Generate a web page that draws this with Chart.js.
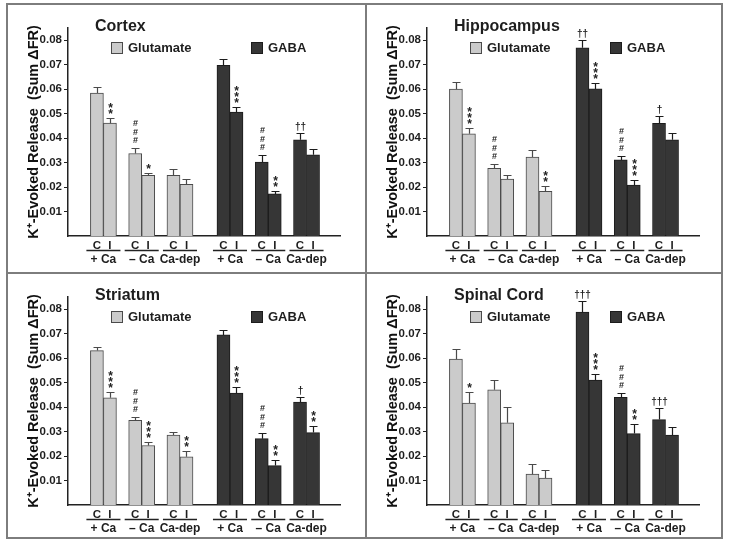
<!DOCTYPE html>
<html><head><meta charset="utf-8">
<script src="https://cdn.jsdelivr.net/npm/chart.js@4.4.1/dist/chart.umd.min.js"></script>
<style>
html,body{margin:0;padding:0;background:#fff;}
#wrap{position:relative;width:729px;height:545px;overflow:hidden;background:#fff;}
canvas{position:absolute;}
.ln{position:absolute;background:#7d7d7d;}
</style></head><body>
<div id="wrap">
<canvas id="c0" width="357" height="267" style="left:8px;top:5px"></canvas>
<canvas id="c1" width="354" height="267" style="left:367px;top:5px"></canvas>
<canvas id="c2" width="357" height="263" style="left:8px;top:274px"></canvas>
<canvas id="c3" width="354" height="263" style="left:367px;top:274px"></canvas>
<div class="ln" style="left:6px;top:3px;width:717px;height:2px"></div>
<div class="ln" style="left:6px;top:537px;width:717px;height:2px"></div>
<div class="ln" style="left:6px;top:3px;width:2px;height:536px"></div>
<div class="ln" style="left:721px;top:3px;width:2px;height:536px"></div>
<div class="ln" style="left:365px;top:3px;width:2px;height:536px"></div>
<div class="ln" style="left:6px;top:272px;width:717px;height:2px"></div>
</div>
<script>
// ---------- data ----------
const panelTitles = ['Cortex', 'Hippocampus', 'Striatum', 'Spinal Cord'];
const groupLabels = ['+ Ca', '\u2013 Ca', 'Ca-dep'];
const barLabels = ['C', 'I'];
const seriesNames = ['Glutamate', 'GABA'];
const yTickValues = [0.01, 0.02, 0.03, 0.04, 0.05, 0.06, 0.07, 0.08];
const yTitle = 'K\u207A-Evoked Release  (Sum \u0394FR)';

// order per series: +Ca C, +Ca I, -Ca C, -Ca I, Ca-dep C, Ca-dep I
const cortexGlutamate    = [0.0584, 0.0461, 0.0337, 0.0248, 0.0248, 0.0211];
const cortexGlutamateErr = [0.0026, 0.0023, 0.0024, 0.0008, 0.0025, 0.0023];
const cortexGlutamateSig = ['', '**', '###', '*', '', ''];
const cortexGaba         = [0.0697, 0.0506, 0.0302, 0.0172, 0.0393, 0.0332];
const cortexGabaErr      = [0.0026, 0.0023, 0.0030, 0.0013, 0.0027, 0.0024];
const cortexGabaSig      = ['', '***', '###', '**', '\u2020\u2020', ''];

const hippoGlutamate     = [0.0600, 0.0418, 0.0277, 0.0233, 0.0323, 0.0183];
const hippoGlutamateErr  = [0.0030, 0.0023, 0.0017, 0.0015, 0.0028, 0.0023];
const hippoGlutamateSig  = ['', '***', '###', '', '', '**'];
const hippoGaba          = [0.0769, 0.0601, 0.0311, 0.0208, 0.0460, 0.0393];
const hippoGabaErr       = [0.0034, 0.0024, 0.0016, 0.0019, 0.0031, 0.0026];
const hippoGabaSig       = ['\u2020\u2020', '***', '###', '***', '\u2020', ''];

const striatumGlutamate    = [0.0631, 0.0438, 0.0346, 0.0243, 0.0286, 0.0197];
const striatumGlutamateErr = [0.0014, 0.0022, 0.0014, 0.0015, 0.0014, 0.0023];
const striatumGlutamateSig = ['', '***', '###', '***', '', '**'];
const striatumGaba         = [0.0695, 0.0457, 0.0271, 0.0161, 0.0421, 0.0296];
const striatumGabaErr      = [0.0020, 0.0025, 0.0022, 0.0022, 0.0021, 0.0027];
const striatumGabaSig      = ['', '***', '###', '**', '\u2020', '**'];

const spinalGlutamate    = [0.0596, 0.0417, 0.0471, 0.0336, 0.0126, 0.0110];
const spinalGlutamateErr = [0.0040, 0.0043, 0.0041, 0.0064, 0.0040, 0.0031];
const spinalGlutamateSig = ['', '*', '', '', '', ''];
const spinalGaba         = [0.0788, 0.0510, 0.0440, 0.0292, 0.0349, 0.0286];
const spinalGabaErr      = [0.0046, 0.0027, 0.0016, 0.0040, 0.0047, 0.0033];
const spinalGabaSig      = ['\u2020\u2020\u2020', '***', '###', '**', '\u2020\u2020\u2020', ''];

const panels = [
  [cortexGlutamate, cortexGlutamateErr, cortexGlutamateSig, cortexGaba, cortexGabaErr, cortexGabaSig],
  [hippoGlutamate, hippoGlutamateErr, hippoGlutamateSig, hippoGaba, hippoGabaErr, hippoGabaSig],
  [striatumGlutamate, striatumGlutamateErr, striatumGlutamateSig, striatumGaba, striatumGabaErr, striatumGabaSig],
  [spinalGlutamate, spinalGlutamateErr, spinalGlutamateSig, spinalGaba, spinalGabaErr, spinalGabaSig]
];

// ---------- layout (x in bar-width units) ----------
const FIRST = 0.85, PITCH = 2.94, SET = 9.72, XMAX = 19.15;
const PLOT_TOP = 23, PLOT_BOTTOM = 231, PLOT_LEFT = 60, PLOT_RIGHT = 332;
function barX(set, i) { return FIRST + SET * set + PITCH * Math.floor(i / 2) + (i % 2) + 0.5; }
const centers = [];
for (let s = 0; s < 2; s++) for (let i = 0; i < 6; i++) centers.push(barX(s, i));
centers.sort((a, b) => a - b);

const FONT = "'Liberation Sans', Arial, Helvetica, sans-serif";
Chart.defaults.font.family = FONT;
Chart.defaults.color = '#1e1e1e';
const TXT = '#1e1e1e';
const styles = [
  { bg: '#cbcbcb', border: '#4a4a4a' },
  { bg: '#363636', border: '#1c1c1c' }
];

const annot = {
  id: 'annot',
  afterDatasetsDraw(chart) {
    const { ctx, scales: { x, y } } = chart;
    chart.data.datasets.forEach(ds => {
      ds.data.forEach((pt, i) => {
        const cx = Math.round(x.getPixelForValue(pt.x)) + 0.5;
        const yTop = y.getPixelForValue(pt.y);
        const yErr = Math.round(y.getPixelForValue(pt.y + ds.errors[i])) + 0.5;
        ctx.save();
        ctx.strokeStyle = ds.borderColor;
        ctx.lineWidth = 1.2;
        ctx.beginPath();
        ctx.moveTo(cx, yTop); ctx.lineTo(cx, yErr);
        ctx.moveTo(cx - 4, yErr); ctx.lineTo(cx + 4, yErr);
        ctx.stroke();
        const s = ds.sig[i];
        if (s) {
          ctx.fillStyle = '#222';
          ctx.textAlign = 'center';
          ctx.textBaseline = 'alphabetic';
          if (s[0] === '\u2020') {
            ctx.font = 'bold 10px ' + FONT;
            ctx.fillText(s, cx, yErr - 4);
          } else if (s[0] === '*') {
            ctx.font = 'bold 12px ' + FONT;
            for (let k = 0; k < s.length; k++) {
              const cy = yErr - 7.5 - 6 * k;
              ctx.fillText('*', cx, cy + 7);
            }
          } else {
            ctx.font = 'bold 9px ' + FONT;
            for (let k = 0; k < s.length; k++) {
              const cy = yErr - 8.3 - 8.5 * k;
              ctx.fillText('#', cx, cy + 3.2);
            }
          }
        }
        ctx.restore();
      });
    });
  },
  afterDraw(chart) {
    const { ctx, chartArea: ca, scales: { x } } = chart;
    ctx.save();
    // panel title
    ctx.fillStyle = TXT;
    ctx.textAlign = 'left';
    ctx.textBaseline = 'alphabetic';
    ctx.font = 'bold 16px ' + FONT;
    ctx.fillText(chart.options.plugins.panelTitle, ca.left + 27, 26);
    // legend
    const legendX = [ca.left + 43, ca.left + 183];
    chart.data.datasets.forEach((ds, d) => {
      ctx.fillStyle = ds.backgroundColor;
      ctx.strokeStyle = ds.borderColor;
      ctx.lineWidth = 1;
      ctx.fillRect(legendX[d], 37, 12, 12);
      ctx.strokeRect(legendX[d] + 0.5, 37.5, 11, 11);
      ctx.fillStyle = TXT;
      ctx.font = 'bold 13px ' + FONT;
      ctx.textBaseline = 'middle';
      ctx.fillText(ds.label, legendX[d] + 17, 43.5);
    });
    // group labels with underline
    const unit = x.getPixelForValue(1) - x.getPixelForValue(0);
    ctx.strokeStyle = '#222';
    ctx.lineWidth = 1.3;
    ctx.textAlign = 'center';
    ctx.textBaseline = 'middle';
    ctx.font = 'bold 12px ' + FONT;
    for (let s = 0; s < 2; s++) {
      for (let g = 0; g < 3; g++) {
        const left = x.getPixelForValue(barX(s, 2 * g) - 0.5);
        const right = left + 2 * unit;
        ctx.beginPath();
        ctx.moveTo(left - 4, 245.5); ctx.lineTo(right + 4, 245.5);
        ctx.stroke();
        ctx.fillStyle = TXT;
        ctx.fillText(groupLabels[g], (left + right) / 2, 254.5);
      }
    }
    ctx.restore();
  }
};

panels.forEach((p, idx) => {
  const canvas = document.getElementById('c' + idx);
  const W = canvas.width;
  const datasets = [0, 1].map(s => ({
    label: seriesNames[s],
    data: p[s * 3].map((v, i) => ({ x: barX(s, i), y: v })),
    errors: p[s * 3 + 1],
    sig: p[s * 3 + 2],
    backgroundColor: styles[s].bg,
    borderColor: styles[s].border,
    borderWidth: 1
  }));
  new Chart(canvas, {
    type: 'bar',
    data: { datasets },
    options: {
      responsive: false,
      animation: false,
      devicePixelRatio: 1,
      layout: { padding: { top: PLOT_TOP, right: W - PLOT_RIGHT, left: 0, bottom: 0 } },
      datasets: { bar: { grouped: false, barPercentage: 1, categoryPercentage: 1 } },
      plugins: { legend: { display: false }, tooltip: { enabled: false }, panelTitle: panelTitles[idx] },
      scales: {
        x: {
          type: 'linear', min: 0, max: XMAX,
          afterBuildTicks: s => { s.ticks = centers.map(v => ({ value: v })); },
          afterFit: s => { s.height = s.chart.height - PLOT_BOTTOM; },
          grid: { display: false, drawTicks: false, tickLength: 0 },
          border: { display: true, color: '#222', width: 1.5 },
          ticks: {
            autoSkip: false, maxRotation: 0, minRotation: 0, padding: 3,
            color: TXT, font: { size: 11.5, weight: 'bold' },
            callback: (v, i) => barLabels[i % 2]
          }
        },
        y: {
          min: 0, max: 0.085,
          afterBuildTicks: s => { s.ticks = yTickValues.map(v => ({ value: v })); },
          afterFit: s => { s.width = PLOT_LEFT; },
          grid: { drawOnChartArea: false, drawTicks: true, tickLength: 4, color: '#222', lineWidth: 1 },
          border: { display: true, color: '#222', width: 1.5 },
          ticks: { padding: 2, color: TXT, font: { size: 11.5, weight: 'bold' }, callback: v => v.toFixed(2) },
          title: { display: true, text: yTitle, color: '#111', font: { size: 14.5, weight: 'bold' }, padding: { top: 17, bottom: 0 } }
        }
      }
    },
    plugins: [annot]
  });
});
</script>
</body></html>
